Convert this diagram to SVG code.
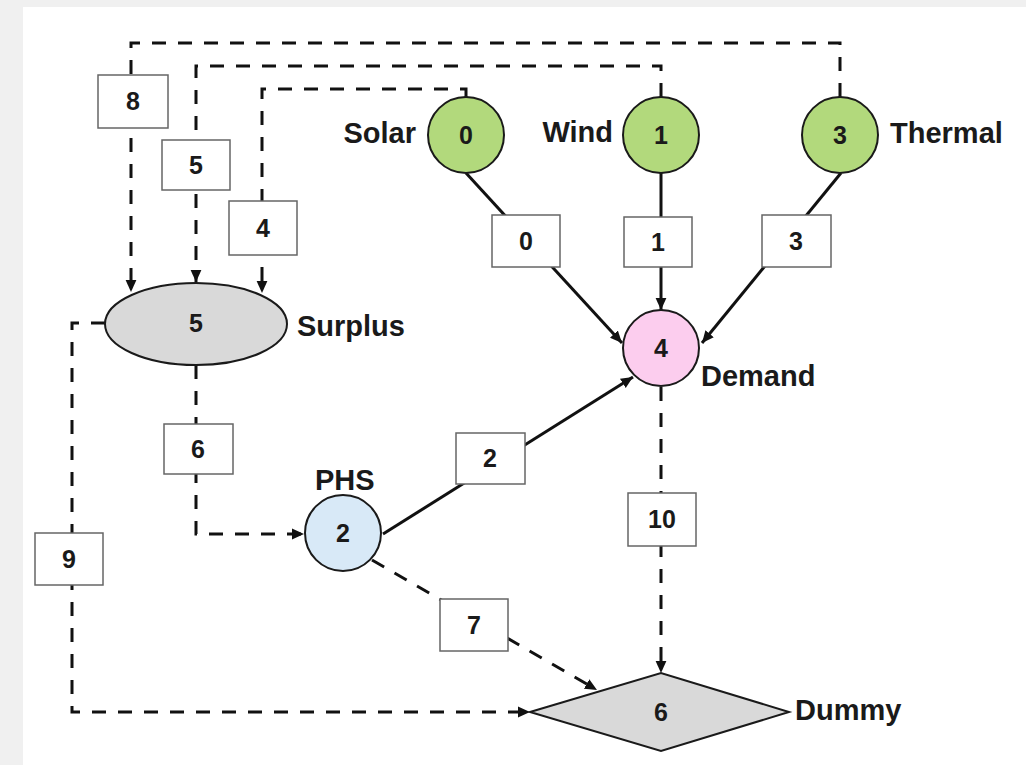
<svg xmlns="http://www.w3.org/2000/svg" width="1026" height="765" viewBox="0 0 1026 765">
  <style>
    .bg { fill: #f0f0f0; }
    .sheet { fill: #ffffff; }
    .node { stroke: #1a1a1a; stroke-width: 2; }
    .src { fill: #b2d97c; }
    .dem { fill: #fccdee; }
    .phs { fill: #d8e9f7; }
    .aux { fill: #d9d9d9; }
    .num { font-family: "Liberation Sans", Arial, sans-serif; font-weight: bold; font-size: 25px; fill: #1a1a1a; text-anchor: middle; }
    .lbl { font-family: "Liberation Sans", Arial, sans-serif; font-weight: bold; font-size: 29px; fill: #1a1a1a; }
    .edge { fill: none; stroke: #111111; stroke-width: 3; }
    .dash { stroke-dasharray: 14 12; }
    .tag { fill: #ffffff; stroke: #666666; stroke-width: 1.5; }
  </style>
  <defs>
    <marker id="arrow" markerUnits="userSpaceOnUse" markerWidth="12" markerHeight="12" viewBox="0 0 10 10" refX="10" refY="5" orient="auto">
      <path d="M0,0.5 L10,5 L0,9.5 Z" fill="#111111" stroke="none"/>
    </marker>
  </defs>

  <!-- page -->
  <rect class="bg" x="0" y="0" width="1026" height="765"/>
  <rect class="sheet" x="23" y="7" width="1003" height="758"/>

  <!-- connectors -->
  <g id="connectors">
    <!-- dashed return flows into Surplus -->
    <path class="edge dash" d="M840,97 V43 H131 V292" marker-end="url(#arrow)"/>
    <path class="edge dash" d="M661,97 V66 H196 V282" marker-end="url(#arrow)"/>
    <path class="edge dash" d="M466,97 V89 H262 V293" marker-end="url(#arrow)"/>
    <!-- supply to Demand -->
    <path class="edge" d="M466,173 L622,343" marker-end="url(#arrow)"/>
    <path class="edge" d="M661,173 V310" marker-end="url(#arrow)"/>
    <path class="edge" d="M841,173 L702,343" marker-end="url(#arrow)"/>
    <path class="edge" d="M383,534 L633,377" marker-end="url(#arrow)"/>
    <!-- Surplus to PHS -->
    <path class="edge dash" d="M196,365 V534 H304" marker-end="url(#arrow)"/>
    <!-- flows into Dummy -->
    <path class="edge dash" d="M105,323 H72 V712 H530" marker-end="url(#arrow)"/>
    <path class="edge dash" d="M372,560 L597,690" marker-end="url(#arrow)"/>
    <path class="edge dash" d="M661,387 V673" marker-end="url(#arrow)"/>

    <!-- edge labels -->
    <g id="edge-labels">
      <rect class="tag" x="98" y="75" width="70" height="53"/><text class="num" x="133" y="110">8</text>
      <rect class="tag" x="162" y="140" width="68" height="50"/><text class="num" x="196" y="174">5</text>
      <rect class="tag" x="229" y="201" width="68" height="54"/><text class="num" x="263" y="237">4</text>
      <rect class="tag" x="492" y="215" width="68" height="52"/><text class="num" x="526" y="250">0</text>
      <rect class="tag" x="624" y="217" width="68" height="50"/><text class="num" x="658" y="251">1</text>
      <rect class="tag" x="762" y="215" width="69" height="52"/><text class="num" x="796" y="250">3</text>
      <rect class="tag" x="164" y="424" width="69" height="50"/><text class="num" x="198" y="458">6</text>
      <rect class="tag" x="35" y="533" width="68" height="52"/><text class="num" x="69" y="568">9</text>
      <rect class="tag" x="456" y="433" width="69" height="51"/><text class="num" x="490" y="467">2</text>
      <rect class="tag" x="440" y="599" width="68" height="52"/><text class="num" x="474" y="634">7</text>
      <rect class="tag" x="628" y="493" width="68" height="53"/><text class="num" x="662" y="528">10</text>
    </g>
  </g>

  <!-- nodes -->
  <g id="node-solar">
    <circle class="node src" cx="466" cy="135" r="38"/>
    <text class="num" x="466" y="144">0</text>
    <text class="lbl" x="416" y="143" text-anchor="end">Solar</text>
  </g>
  <g id="node-wind">
    <circle class="node src" cx="661" cy="135" r="38"/>
    <text class="num" x="661" y="144">1</text>
    <text class="lbl" x="613" y="142" text-anchor="end">Wind</text>
  </g>
  <g id="node-thermal">
    <circle class="node src" cx="840" cy="135" r="38"/>
    <text class="num" x="840" y="144">3</text>
    <text class="lbl" x="890" y="143">Thermal</text>
  </g>
  <g id="node-demand">
    <circle class="node dem" cx="661" cy="348" r="38"/>
    <text class="num" x="661" y="357">4</text>
    <text class="lbl" x="701" y="386">Demand</text>
  </g>
  <g id="node-surplus">
    <ellipse class="node aux" cx="196" cy="324" rx="91" ry="41"/>
    <text class="num" x="196" y="332">5</text>
    <text class="lbl" x="297" y="336">Surplus</text>
  </g>
  <g id="node-phs">
    <circle class="node phs" cx="343" cy="533" r="38"/>
    <text class="num" x="343" y="542">2</text>
    <text class="lbl" x="315" y="490">PHS</text>
  </g>
  <g id="node-dummy">
    <polygon class="node aux" points="530,712 661,673 789,712 661,751"/>
    <text class="num" x="661" y="721">6</text>
    <text class="lbl" x="795" y="720">Dummy</text>
  </g>
</svg>
